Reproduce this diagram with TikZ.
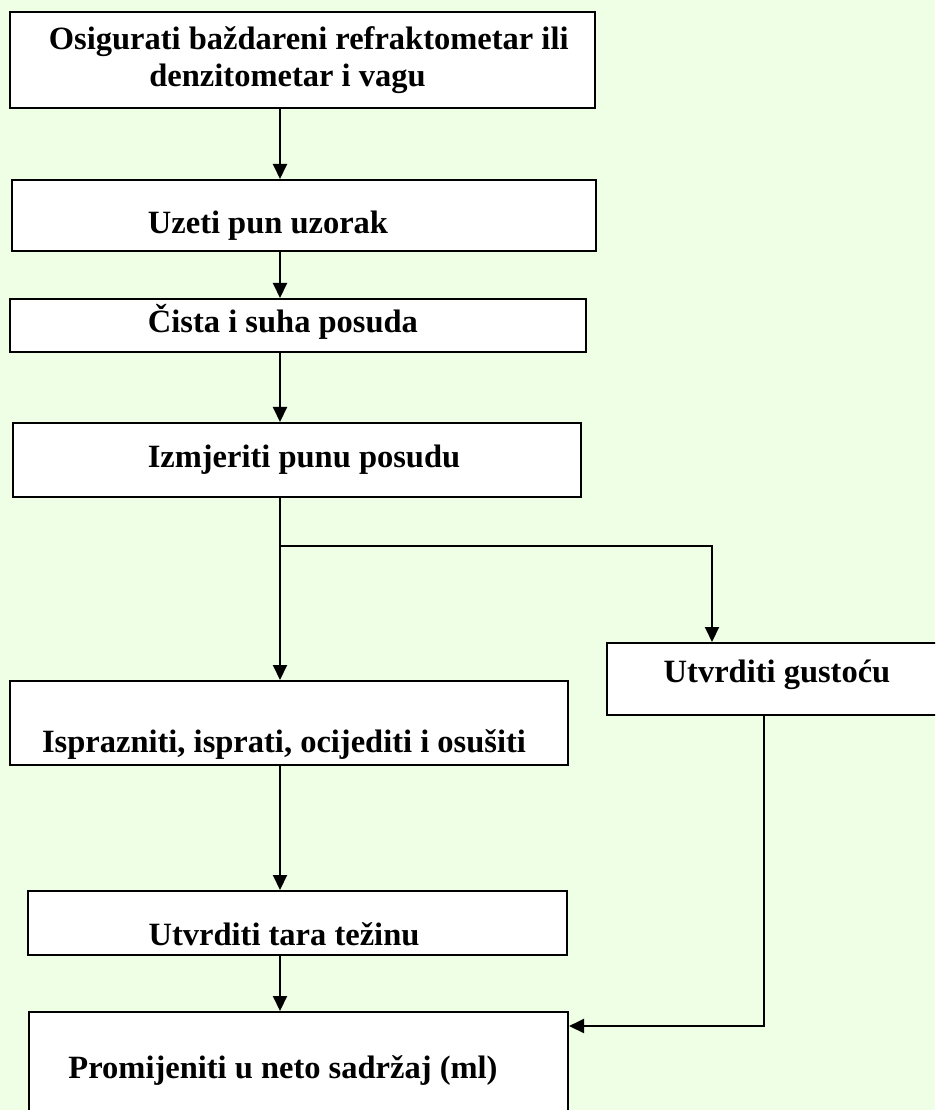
\documentclass[tikz,border=0pt]{standalone}
\usepackage{fontspec}
\setmainfont{Liberation Serif}
\usetikzlibrary{arrows.meta}
\definecolor{bggreen}{RGB}{239,255,229}
% text of a box, moved by (#1,#2) from the middle of the box
\newcommand{\boxtext}[3]{\raisebox{#2}[0.7em][0.25em]{\hspace*{#1}#3\hspace*{-#1}}}

\begin{document}
\begin{tikzpicture}
	[x=0.4pt, y=-0.4pt,
	 stepbox/.style={draw, fill=white, line width=0.8pt, inner sep=0pt,
	   font=\fontsize{13pt}{15pt}\selectfont\bfseries},
	 flow/.style={-{Triangle[width=5.6pt,length=6pt]}, line width=0.8pt}]
	% page and green background
	\useasboundingbox (0,0) rectangle (935,1110);
	\fill[bggreen] (0,0) rectangle (935,1110);
	\clip (0,0) rectangle (935,1110);

	% the steps of the left column
	\node[stepbox, minimum width=234pt, minimum height=38.4pt, align=center] (osigurati) at (302.5,60)
		{\hspace*{5pt}Osigurati baždareni refraktometar ili\\denzitometar i vagu\hspace*{12pt}};
	\node[stepbox, minimum width=233.6pt, minimum height=28.4pt] (uzorak) at (304,215.5)
		{\boxtext{-14.4pt}{-4.2pt}{Uzeti pun uzorak}};
	\node[stepbox, minimum width=230.4pt, minimum height=21.2pt] (posuda) at (298,325.5)
		{\boxtext{-6pt}{0pt}{Čista i suha posuda}};
	\node[stepbox, minimum width=227.2pt, minimum height=29.6pt] (izmjeriti) at (297,460)
		{\boxtext{2.8pt}{0pt}{Izmjeriti punu posudu}};
	\node[stepbox, minimum width=223.2pt, minimum height=33.6pt] (isprazniti) at (289,723)
		{\boxtext{-2pt}{-8.8pt}{Isprazniti, isprati, ocijediti i osušiti}};
	\node[stepbox, minimum width=215.6pt, minimum height=25.6pt] (tara) at (297.5,923)
		{\boxtext{-5.4pt}{-6pt}{Utvrditi tara težinu}};
	\node[stepbox, minimum width=215.6pt, minimum height=47.2pt] (promijeniti) at (298.5,1071)
		{\boxtext{-6.2pt}{0pt}{Promijeniti u neto sadržaj (ml)}};

	% the step on the right
	\node[stepbox, minimum width=132.8pt, minimum height=28.8pt] (gustocu) at (773,679)
		{\boxtext{1.6pt}{1.6pt}{Utvrditi gustoću}};

	% points where the lines turn
	\coordinate (axis) at (280,0);
	\coordinate (split) at (280,546);
	\coordinate (branch) at (712,546);
	\coordinate (corner) at (764,1026);

	% draw the arrows
	\draw[flow] (osigurati.south -| axis) -- (uzorak.north -| axis);
	\draw[flow] (uzorak.south -| axis) -- (posuda.north -| axis);
	\draw[flow] (posuda.south -| axis) -- (izmjeriti.north -| axis);
	\draw[flow] (izmjeriti.south -| axis) -- (isprazniti.north -| axis);
	\draw[flow] (split) -- (branch) -- (gustocu.north -| branch);
	\draw[flow] (isprazniti.south -| axis) -- (tara.north -| axis);
	\draw[flow] (tara.south -| axis) -- (promijeniti.north -| axis);
	\draw[flow] (gustocu.south -| corner) -- (corner) -- (promijeniti.east |- corner);
\end{tikzpicture}
\end{document}
